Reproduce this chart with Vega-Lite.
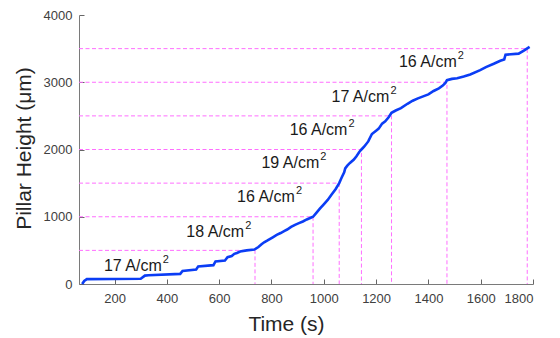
{
  "$schema": "https://vega.github.io/schema/vega-lite/v6.json",
  "autosize": "none",
  "width": 454,
  "height": 269,
  "padding": {"left": 79, "top": 15, "right": 27, "bottom": 54},
  "background": "white",
  "config": {
    "view": {"stroke": null},
    "font": "Liberation Sans",
    "axis": {
      "grid": false,
      "ticks": true,
      "zindex": 1,
      "domainColor": "#7a7a7a",
      "tickColor": "#666666",
      "tickSize": -5,
      "tickWidth": 1,
      "labelFont": "Liberation Sans",
      "labelFontSize": 13,
      "labelColor": "#404040",
      "titleFont": "Liberation Sans",
      "titleFontSize": 21,
      "titleFontWeight": "normal",
      "titleColor": "#262626"
    }
  },
  "datasets": {
    "curve": [
      {"t": 76, "h": 0}, {"t": 84, "h": 45}, {"t": 94, "h": 72}, {"t": 300, "h": 78}, {"t": 316, "h": 125},
      {"t": 330, "h": 130}, {"t": 451, "h": 150}, {"t": 460, "h": 195}, {"t": 512, "h": 215}, {"t": 520, "h": 262},
      {"t": 578, "h": 280}, {"t": 586, "h": 335}, {"t": 622, "h": 350}, {"t": 632, "h": 398}, {"t": 648, "h": 415},
      {"t": 658, "h": 448}, {"t": 668, "h": 462}, {"t": 680, "h": 482}, {"t": 705, "h": 500}, {"t": 735, "h": 512},
      {"t": 750, "h": 550}, {"t": 762, "h": 590}, {"t": 772, "h": 620}, {"t": 785, "h": 648}, {"t": 795, "h": 672},
      {"t": 805, "h": 695}, {"t": 820, "h": 730}, {"t": 835, "h": 758}, {"t": 850, "h": 790}, {"t": 860, "h": 810},
      {"t": 875, "h": 850}, {"t": 890, "h": 880}, {"t": 905, "h": 905}, {"t": 920, "h": 930}, {"t": 935, "h": 960},
      {"t": 950, "h": 985}, {"t": 959, "h": 1000}, {"t": 970, "h": 1050}, {"t": 985, "h": 1120}, {"t": 1000, "h": 1185},
      {"t": 1015, "h": 1250}, {"t": 1030, "h": 1330}, {"t": 1045, "h": 1410}, {"t": 1059, "h": 1500}, {"t": 1068, "h": 1580},
      {"t": 1078, "h": 1660}, {"t": 1082, "h": 1720}, {"t": 1090, "h": 1760}, {"t": 1100, "h": 1800}, {"t": 1115, "h": 1850},
      {"t": 1125, "h": 1900}, {"t": 1135, "h": 1960}, {"t": 1144, "h": 2000}, {"t": 1155, "h": 2045}, {"t": 1170, "h": 2120},
      {"t": 1184, "h": 2230}, {"t": 1200, "h": 2280}, {"t": 1210, "h": 2310}, {"t": 1223, "h": 2385}, {"t": 1235, "h": 2420},
      {"t": 1248, "h": 2480}, {"t": 1259, "h": 2545}, {"t": 1275, "h": 2580}, {"t": 1295, "h": 2615}, {"t": 1320, "h": 2680},
      {"t": 1340, "h": 2725}, {"t": 1360, "h": 2760}, {"t": 1380, "h": 2790}, {"t": 1400, "h": 2820},
      {"t": 1420, "h": 2870}, {"t": 1440, "h": 2910}, {"t": 1455, "h": 2950}, {"t": 1465, "h": 2990}, {"t": 1471, "h": 3030},
      {"t": 1490, "h": 3050}, {"t": 1510, "h": 3060}, {"t": 1535, "h": 3085}, {"t": 1560, "h": 3115}, {"t": 1598, "h": 3180},
      {"t": 1620, "h": 3225}, {"t": 1650, "h": 3275}, {"t": 1675, "h": 3320}, {"t": 1690, "h": 3340}, {"t": 1695, "h": 3410},
      {"t": 1745, "h": 3425}, {"t": 1765, "h": 3470}, {"t": 1787, "h": 3525}
    ],
    "refs": [
      {"seg": 1, "o": 1, "t": 64, "h": 500}, {"seg": 1, "o": 2, "t": 737, "h": 500}, {"seg": 1, "o": 3, "t": 737, "h": 0},
      {"seg": 2, "o": 1, "t": 64, "h": 1000}, {"seg": 2, "o": 2, "t": 959, "h": 1000}, {"seg": 2, "o": 3, "t": 959, "h": 0},
      {"seg": 3, "o": 1, "t": 64, "h": 1500}, {"seg": 3, "o": 2, "t": 1059, "h": 1500}, {"seg": 3, "o": 3, "t": 1059, "h": 0},
      {"seg": 4, "o": 1, "t": 64, "h": 2000}, {"seg": 4, "o": 2, "t": 1144, "h": 2000}, {"seg": 4, "o": 3, "t": 1144, "h": 0},
      {"seg": 5, "o": 1, "t": 64, "h": 2500}, {"seg": 5, "o": 2, "t": 1259, "h": 2500}, {"seg": 5, "o": 3, "t": 1259, "h": 0},
      {"seg": 6, "o": 1, "t": 64, "h": 3000}, {"seg": 6, "o": 2, "t": 1471, "h": 3000}, {"seg": 6, "o": 3, "t": 1471, "h": 0},
      {"seg": 7, "o": 1, "t": 64, "h": 3500}, {"seg": 7, "o": 2, "t": 1778, "h": 3500}, {"seg": 7, "o": 3, "t": 1778, "h": 0}
    ],
    "labels": [
      {"t": 270, "h": 200, "label": "17 A/cm"},
      {"t": 585, "h": 700, "label": "18 A/cm"},
      {"t": 779, "h": 1221, "label": "16 A/cm"},
      {"t": 872, "h": 1718, "label": "19 A/cm"},
      {"t": 980, "h": 2214, "label": "16 A/cm"},
      {"t": 1140, "h": 2710, "label": "17 A/cm"},
      {"t": 1398, "h": 3231, "label": "16 A/cm"}
    ]
  },
  "layer": [
    {
      "data": {"name": "refs"},
      "mark": {"type": "line", "stroke": "#ff6eff", "strokeWidth": 1, "strokeDash": [4, 2.5]},
      "encoding": {
        "x": {
          "field": "t",
          "type": "quantitative",
          "scale": {"domain": [64, 1800], "nice": false, "zero": false},
          "axis": {
            "title": "Time (s)",
            "format": "d",
            "values": [200, 400, 600, 800, 1000, 1200, 1400, 1600, 1800],
            "labelPadding": 13,
            "titleX": 207,
            "titleY": 46,
            "titleBaseline": "alphabetic",
            "titleAlign": "center"
          }
        },
        "y": {
          "field": "h",
          "type": "quantitative",
          "scale": {"domain": [0, 4000], "nice": false},
          "axis": {
            "title": "Pillar Height (μm)",
            "format": "d",
            "values": [0, 1000, 2000, 3000, 4000],
            "labelPadding": 12,
            "titleX": -49,
            "titleY": 133,
            "titleBaseline": "alphabetic",
            "titleAlign": "center",
            "titleAngle": -90
          }
        },
        "detail": {"field": "seg", "type": "nominal"},
        "order": {"field": "o", "type": "quantitative"}
      }
    },
    {
      "data": {"name": "curve"},
      "mark": {"type": "line", "color": "#0b3df5", "strokeWidth": 2.6},
      "encoding": {
        "x": {"field": "t", "type": "quantitative"},
        "y": {"field": "h", "type": "quantitative"}
      }
    },
    {
      "data": {"name": "labels"},
      "mark": {"type": "text", "font": "Liberation Sans", "fontSize": 16, "color": "#1a1a1a", "align": "center", "baseline": "alphabetic"},
      "encoding": {
        "x": {"field": "t", "type": "quantitative"},
        "y": {"field": "h", "type": "quantitative"},
        "text": {"field": "label"}
      }
    },
    {
      "data": {"name": "labels"},
      "mark": {"type": "text", "font": "Liberation Sans", "fontSize": 11, "color": "#1a1a1a", "align": "left", "baseline": "alphabetic", "dx": 30, "dy": -8},
      "encoding": {
        "x": {"field": "t", "type": "quantitative"},
        "y": {"field": "h", "type": "quantitative"},
        "text": {"value": "2"}
      }
    }
  ]
}
